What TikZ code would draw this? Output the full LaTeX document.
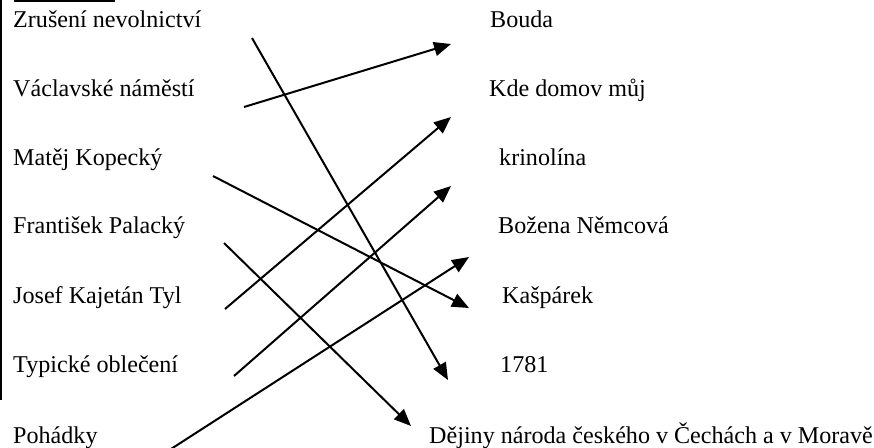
\documentclass[tikz,border=0pt]{standalone}
\usepackage{fontspec}
\setmainfont{Liberation Serif}
\usetikzlibrary{arrows.meta}
\tikzset{
  lbl/.style={anchor=base west, inner sep=0pt, font=\fontsize{24.1}{28}\selectfont},
  conn/.style={line width=2pt, -{Triangle[length=17pt,width=14pt]}},
}
\begin{document}
\begin{tikzpicture}[x=1pt,y=-1pt]
\useasboundingbox (0,0) rectangle (874,447);
% frame remnants
\draw[line width=1.5pt] (0.75,0) -- (0.75,400);
\draw[line width=2.4pt] (14,1.2) -- (115,1.2);
% left column
\node[lbl] (l1) at (13,27) {Zrušení nevolnictví};
\node[lbl] (l2) at (13,96) {Václavské náměstí};
\node[lbl] (l3) at (13,165) {Matěj Kopecký};
\node[lbl] (l4) at (13,233) {František Palacký};
\node[lbl] (l5) at (13,303) {Josef Kajetán Tyl};
\node[lbl] (l6) at (13,372) {Typické oblečení};
\node[lbl] (l7) at (13,443) {Pohádky};
% right column
\node[lbl] (r1) at (490,27) {Bouda};
\node[lbl] (r2) at (489,96) {Kde domov můj};
\node[lbl] (r3) at (499,165) {krinolína};
\node[lbl] (r4) at (498,233) {Božena Němcová};
\node[lbl] (r5) at (502,303) {Kašpárek};
\node[lbl] (r6) at (500,372) {1781};
\node[lbl] (r7) at (429,443) {Dějiny národa českého v Čechách a v Moravě};
% connector ends
\coordinate (s1) at (252,38);   \coordinate (t1) at (448,380);
\coordinate (s2) at (244,107);  \coordinate (t2) at (451,44);
\coordinate (s3) at (213,176);  \coordinate (t3) at (469,308);
\coordinate (s4) at (224,243);  \coordinate (t4) at (411,426);
\coordinate (s5) at (225,309);  \coordinate (t5) at (451,117);
\coordinate (s6) at (234,376);  \coordinate (t6) at (451,186);
\coordinate (s7) at (171,449);  \coordinate (t7) at (469,257);
\draw[conn] (s1) -- (t1);
\draw[conn] (s2) -- (t2);
\draw[conn] (s3) -- (t3);
\draw[conn] (s4) -- (t4);
\draw[conn] (s5) -- (t5);
\draw[conn] (s6) -- (t6);
\draw[conn] (s7) -- (t7);
\end{tikzpicture}
\end{document}
